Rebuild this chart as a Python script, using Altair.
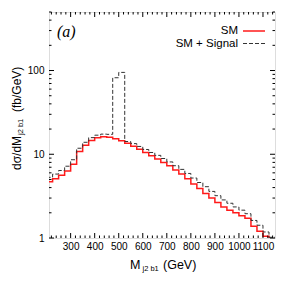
import altair as alt
import pandas as pd

# ---- data ----
bin_start = [200, 225, 250, 275, 300, 325, 350, 375, 400, 425, 450, 475, 500, 525,
             550, 575, 600, 625, 650, 675, 700, 725, 750, 775, 800, 825, 850, 875,
             900, 925, 950, 975, 1000, 1025, 1050, 1075, 1100, 1125]
bin_end = 1150
sm = [4.7, 5.1, 5.6, 6.3, 7.6, 10.8, 12.8, 14.6, 15.7, 16.2, 16.0, 15.3, 14.5, 13.5,
      12.5, 11.5, 10.5, 9.6, 8.8, 8.0, 7.3, 6.5, 5.8, 5.1, 4.4, 3.9, 3.4, 3.0,
      2.65, 2.35, 2.15, 2.0, 1.85, 1.72, 1.38, 1.2, 1.05, 0.95]
sm_signal = [5.3, 5.8, 6.4, 7.2, 8.6, 11.8, 13.9, 15.8, 16.9, 17.4, 17.3, 82.0, 95.0, 14.2,
             13.4, 12.4, 11.4, 10.5, 9.7, 8.9, 8.1, 7.3, 6.6, 5.9, 5.2, 4.6, 4.1, 3.6,
             3.2, 2.85, 2.6, 2.35, 2.15, 1.95, 1.62, 1.42, 1.18, 1.02]
series_names = ["SM", "SM + Signal"]
x_major = [300, 400, 500, 600, 700, 800, 900, 1000, 1100]
x_minor = [v for v in range(220, 1150, 20) if v % 100 != 0]
y_major = [1, 10, 100]
y_minor = [2, 3, 4, 5, 6, 7, 8, 9, 20, 30, 40, 50, 60, 70, 80, 90, 200, 300, 400, 500]

W, H = 226, 226
FONT = "Liberation Sans"

def step_frame(values):
    xs = bin_start + [bin_end]
    vs = values + [values[-1]]
    return pd.DataFrame({"x": xs, "v": vs})

xscale = alt.Scale(domain=[210, 1150], nice=False, zero=False)
yscale = alt.Scale(type="log", domain=[1, 500], nice=False)

xaxis = alt.Axis(values=x_major, ticks=False, domain=False, grid=False, title=None,
                 labelFontSize=10, labelPadding=3, labelOverlap=False, labelBound=False,
                 labelFlush=False, format="d", labelColor="black", labelFont=FONT)
yaxis = alt.Axis(values=y_major, ticks=False, domain=False, grid=False, title=None,
                 labelFontSize=10, labelPadding=5, labelOverlap=False, format="d",
                 labelColor="black", labelFont=FONT)

def X(field):
    return alt.X(field, scale=xscale, axis=xaxis)

def Y(field):
    return alt.Y(field, scale=yscale, axis=yaxis)

sm_line = alt.Chart(step_frame(sm)).mark_line(
    interpolate="step-after", clip=True, color="#ff1a1a", strokeWidth=1.5
).encode(x=X("x:Q"), y=Y("v:Q"))

sig_line = alt.Chart(step_frame(sm_signal)).mark_line(
    interpolate="step-after", clip=True, color="#333333", strokeWidth=1,
    strokeDash=[4, 2]
).encode(x=X("x:Q"), y=Y("v:Q"))

def xticks(vals, length):
    d = pd.DataFrame({"x": vals})
    bottom = alt.Chart(d).mark_rule(color="black", strokeWidth=1).encode(
        x=X("x:Q"), y=alt.value(H), y2=alt.value(H - length))
    top = alt.Chart(d).mark_rule(color="black", strokeWidth=1).encode(
        x=X("x:Q"), y=alt.value(0), y2=alt.value(length))
    return [bottom, top]

def yticks(vals, length):
    d = pd.DataFrame({"v": vals})
    left = alt.Chart(d).mark_rule(color="black", strokeWidth=1).encode(
        y=Y("v:Q"), x=alt.value(0), x2=alt.value(length))
    right = alt.Chart(d).mark_rule(color="black", strokeWidth=1).encode(
        y=Y("v:Q"), x=alt.value(W), x2=alt.value(W - length))
    return [left, right]

one = pd.DataFrame({"a": [0]})

def txt(s, x, y, **kw):
    return alt.Chart(one).mark_text(text=s, font=kw.pop("font", FONT), **kw).encode(
        x=alt.value(x), y=alt.value(y))

# legend
leg = [
    txt(series_names[0], 189, 19, align="right", baseline="middle", fontSize=11.5),
    alt.Chart(one).mark_rule(color="#ff1a1a", strokeWidth=1.5).encode(
        x=alt.value(194), x2=alt.value(216), y=alt.value(19)),
    txt(series_names[1], 189, 31.5, align="right", baseline="middle", fontSize=11.5),
    alt.Chart(one).mark_rule(color="#333333", strokeWidth=1, strokeDash=[4, 2]).encode(
        x=alt.value(194), x2=alt.value(216), y=alt.value(31.5)),
]

label_a = txt("(a)", 8, 20, align="left", baseline="middle", fontSize=16,
              fontStyle="italic", font="Liberation Serif")

# axis titles with subscripts
ytitle = [
    txt("dσ/dM", -32, 158, angle=270, align="left", baseline="middle", fontSize=12),
    txt("j2 b1", -28, 123, angle=270, align="left", baseline="middle", fontSize=7.5),
    txt("(fb/GeV)", -32, 100, angle=270, align="left", baseline="middle", fontSize=12),
]
xtitle = [
    txt("M", 81, 253, align="left", baseline="middle", fontSize=12.5),
    txt("j2 b1", 93.5, 257, align="left", baseline="middle", fontSize=7.5),
    txt("(GeV)", 114, 253, align="left", baseline="middle", fontSize=12.5),
]

layers = ([sm_line, sig_line] + xticks(x_major, 5) + xticks(x_minor, 2.5)
          + yticks(y_major, 5) + yticks(y_minor, 2.5) + leg + [label_a] + ytitle + xtitle)

chart = alt.layer(*layers).properties(
    width=W, height=H,
    padding={"left": 41, "top": 4, "right": 8, "bottom": 36},
    autosize=alt.AutoSizeParams(type="none"),
    background="white",
).configure_view(stroke="black", strokeWidth=2).configure(font=FONT)

chart.save("out.html", embed_options={"renderer": "svg", "actions": False})
